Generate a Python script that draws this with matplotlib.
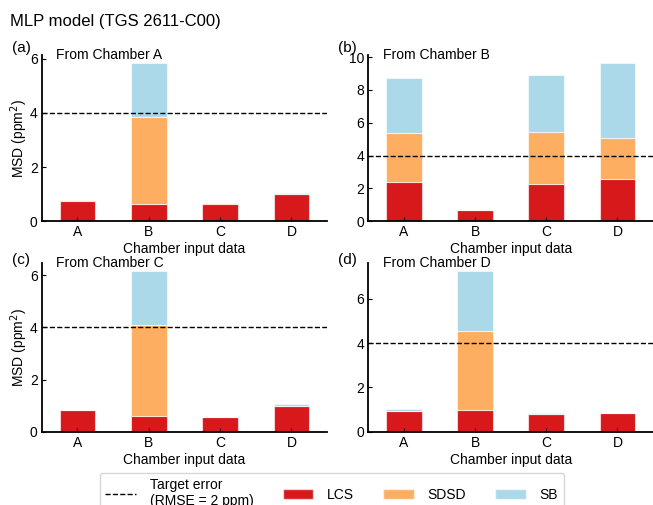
import numpy as np
import matplotlib
matplotlib.use("Agg")
import matplotlib.pyplot as plt
from matplotlib.lines import Line2D
from matplotlib.patches import Patch
from matplotlib.ticker import MultipleLocator

plt.rcParams['font.family'] = ['Liberation Sans', 'DejaVu Sans']
plt.rcParams['font.size'] = 10

chambers = ['A', 'B', 'C', 'D']
panel_tags = ['(a)', '(b)', '(c)', '(d)']
panel_titles = ['From Chamber A', 'From Chamber B', 'From Chamber C', 'From Chamber D']

# components
lcs = [
    [0.76, 0.64, 0.65, 1.00],
    [2.38, 0.68, 2.28, 2.57],
    [0.83, 0.60, 0.57, 1.00],
    [0.95, 1.00, 0.78, 0.83],
]
sdsd = [
    [0.02, 3.23, 0.01, 0.00],
    [3.01, 0.01, 3.15, 2.50],
    [0.01, 3.50, 0.01, 0.00],
    [0.00, 3.53, 0.02, 0.00],
]
sb = [
    [0.00, 1.98, 0.00, 0.06],
    [3.36, 0.00, 3.45, 4.57],
    [0.00, 2.05, 0.00, 0.06],
    [0.10, 2.72, 0.05, 0.00],
]
target = 4.0  # (RMSE = 2 ppm)^2

c_lcs = '#d7191c'
c_sdsd = '#fdae61'
c_sb = '#abd9e9'
edge = (1, 1, 1, 0.6)

fig = plt.figure(figsize=(6.53, 5.05), dpi=100)
boxes = [
    [0.064, 0.562, 0.437, 0.329],
    [0.564, 0.562, 0.436, 0.329],
    [0.064, 0.145, 0.437, 0.334],
    [0.564, 0.145, 0.436, 0.334],
]
tag_y = [1.04, 1.04, 1.02, 1.02]

x = np.arange(len(chambers))
for i in range(4):
    ax = fig.add_axes(boxes[i])
    l = np.array(lcs[i])
    s = np.array(sdsd[i])
    b = np.array(sb[i])
    ax.bar(x, l, width=0.5, color=c_lcs, edgecolor=edge, linewidth=0.8)
    ax.bar(x, s, width=0.5, bottom=l, color=c_sdsd, edgecolor=edge, linewidth=0.8)
    ax.bar(x, b, width=0.5, bottom=l + s, color=c_sb, edgecolor=edge, linewidth=0.8)
    ax.axhline(target, color='black', ls='--', lw=1)
    ax.set_xlim(-0.5, 3.5)
    top = (l + s + b).max() * 1.05
    ax.set_ylim(0, top)
    ax.yaxis.set_major_locator(MultipleLocator(2))
    ax.set_xticks(x)
    ax.set_xticklabels(chambers)
    ax.tick_params(direction='in', length=3, width=0.8, labelsize=10, pad=3)
    for sp in ['top', 'right']:
        ax.spines[sp].set_visible(False)
    for sp in ['left', 'bottom']:
        ax.spines[sp].set_linewidth(1.3)
    ax.set_xlabel('Chamber input data', fontsize=10, labelpad=2)
    if i % 2 == 0:
        ax.set_ylabel('MSD (ppm$^2$)', fontsize=10)
        ax.yaxis.set_label_coords(-0.042, 0.5)
    ax.text(0.05, 1.0, panel_titles[i], transform=ax.transAxes,
            fontsize=10, va='center', ha='left')
    ax.text(-0.105, tag_y[i], panel_tags[i], transform=ax.transAxes,
            fontsize=11, va='center', ha='left')

fig.text(0.015, 0.958, 'MLP model (TGS 2611-C00)', fontsize=12, va='center')

handles = [
    Line2D([0], [0], color='black', ls='--', lw=1),
    Patch(facecolor=c_lcs, edgecolor=edge),
    Patch(facecolor=c_sdsd, edgecolor=edge),
    Patch(facecolor=c_sb, edgecolor=edge),
]
labels = ['Target error\n(RMSE = 2 ppm)', 'LCS', 'SDSD', 'SB']
fig.legend(handles, labels, loc='upper center', bbox_to_anchor=(0.508, 0.078),
           ncol=4, fontsize=10, frameon=True, edgecolor='#cccccc',
           handlelength=2.2, columnspacing=2.1, handletextpad=1.0)

fig.savefig('out.png', dpi=100)
